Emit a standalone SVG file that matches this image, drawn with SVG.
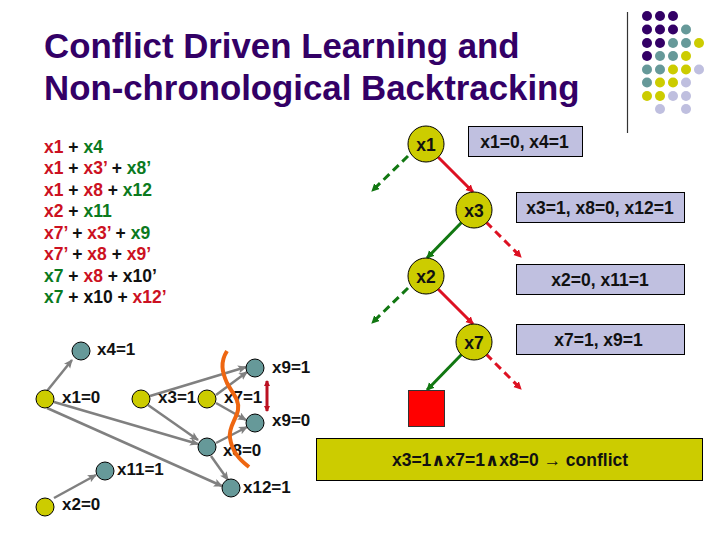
<svg xmlns="http://www.w3.org/2000/svg" width="720" height="540" viewBox="0 0 720 540">
<style>
text{font-family:"Liberation Sans",Arial,"DejaVu Sans",sans-serif;font-weight:bold;fill:#111}
.title{font-size:34.800px;fill:#330066}
.cl{font-size:17.500px}
.r{fill:#cc1122}.g{fill:#0b7a1e}
.lb{font-size:17.500px}
.gl{font-size:17px}
.m{text-anchor:middle}
.dot{stroke:none}
.p{fill:#330066}.t{fill:#669999}.y{fill:#cccc00}.l{fill:#bfbfdf}
.n{stroke:#000;stroke-width:1}
.box{fill:#c0c0e0;stroke:#000;stroke-width:1}
.e{stroke:#808080;stroke-width:2.500;fill:none;marker-end:url(#ag)}
.tr{stroke:#dd1122;stroke-width:3;fill:none;marker-end:url(#ar)}
.tg{stroke:#117711;stroke-width:3;fill:none;marker-end:url(#agr)}
.d{stroke-dasharray:8 5}
</style>
<defs>
<marker id="ag" markerUnits="userSpaceOnUse" markerWidth="10" markerHeight="10" refX="8" refY="4" orient="auto"><path d="M0 0L9 4L0 8L2 4Z" fill="#808080"/></marker>
<marker id="ar" markerUnits="userSpaceOnUse" markerWidth="10" markerHeight="10" refX="7" refY="4" orient="auto"><path d="M0 0L8 4L0 8Z" fill="#dd1122"/></marker>
<marker id="agr" markerUnits="userSpaceOnUse" markerWidth="10" markerHeight="10" refX="7" refY="4" orient="auto"><path d="M0 0L8 4L0 8Z" fill="#117711"/></marker>
<marker id="dr" markerUnits="userSpaceOnUse" markerWidth="8" markerHeight="8" refX="5" refY="3" orient="auto-start-reverse"><path d="M0 0L6 3L0 6Z" fill="#bb1122"/></marker>
</defs>

<text class="title" x="44" y="58">Conflict Driven Learning and</text>
<text class="title" x="44" y="100">Non-chronological Backtracking</text>

<g id="decoration">
<path d="M627.500 12V133" stroke="#333" stroke-width="1.200"/>
<g class="dot">
<circle class="p" cx="647" cy="16" r="5"/><circle class="p" cx="660" cy="16" r="5"/><circle class="p" cx="673" cy="16" r="5"/>
<circle class="p" cx="647" cy="29.500" r="5"/><circle class="p" cx="660" cy="29.500" r="5"/><circle class="p" cx="673" cy="29.500" r="5"/><circle class="t" cx="686" cy="29.500" r="5"/>
<circle class="p" cx="647" cy="43" r="5"/><circle class="p" cx="660" cy="43" r="5"/><circle class="t" cx="673" cy="43" r="5"/><circle class="t" cx="686" cy="43" r="5"/><circle class="y" cx="699" cy="43" r="5"/>
<circle class="p" cx="647" cy="56" r="5"/><circle class="t" cx="660" cy="56" r="5"/><circle class="t" cx="673" cy="56" r="5"/><circle class="y" cx="686" cy="56" r="5"/>
<circle class="t" cx="647" cy="69.500" r="5"/><circle class="t" cx="660" cy="69.500" r="5"/><circle class="y" cx="673" cy="69.500" r="5"/><circle class="y" cx="686" cy="69.500" r="5"/><circle class="l" cx="699" cy="69.500" r="5"/>
<circle class="t" cx="647" cy="82.500" r="5"/><circle class="y" cx="660" cy="82.500" r="5"/><circle class="y" cx="673" cy="82.500" r="5"/><circle class="l" cx="686" cy="82.500" r="5"/>
<circle class="y" cx="647" cy="96" r="5"/><circle class="y" cx="660" cy="96" r="5"/><circle class="l" cx="673" cy="96" r="5"/><circle class="l" cx="686" cy="96" r="5"/>
<circle class="l" cx="660" cy="109" r="5"/><circle class="l" cx="686" cy="109" r="5"/>
</g>
</g>

<g id="clauses" class="cl">
<text x="44" y="153"><tspan class="r">x1</tspan> + <tspan class="g">x4</tspan></text>
<text x="44" y="174"><tspan class="r">x1</tspan> + <tspan class="r">x3’</tspan> + <tspan class="g">x8’</tspan></text>
<text x="44" y="196"><tspan class="r">x1</tspan> + <tspan class="r">x8</tspan> + <tspan class="g">x12</tspan></text>
<text x="44" y="217"><tspan class="r">x2</tspan> + <tspan class="g">x11</tspan></text>
<text x="44" y="239"><tspan class="r">x7’</tspan> + <tspan class="r">x3’</tspan> + <tspan class="g">x9</tspan></text>
<text x="44" y="260"><tspan class="r">x7’</tspan> + <tspan class="r">x8</tspan> + <tspan class="r">x9’</tspan></text>
<text x="44" y="282"><tspan class="g">x7</tspan> + <tspan class="r">x8</tspan> + x10’</text>
<text x="44" y="303"><tspan class="g">x7</tspan> + x10 + <tspan class="r">x12’</tspan></text>
</g>

<g id="connectors">
<path class="e" d="M47 391L72 360"/>
<path class="e" d="M54 402L198 444"/>
<path class="e" d="M47 408L222 486"/>
<path class="e" d="M54 498L96 475"/>
<path class="e" d="M150 396L246 367"/>
<path class="e" d="M148 405L198 440"/>
<path class="e" d="M216 395L247 372"/>
<path class="e" d="M216 403L246 420"/>
<path class="e" d="M216 443L247 427"/>
<path class="e" d="M211 456L228 480"/>
<path class="tr" d="M437 156L473 192"/>
<path class="tr" d="M437 288L473 324"/>
<path class="tg" d="M462 222L427 258"/>
<path class="tg" d="M462 354L427 390"/>
<path class="tg d" d="M408 156L372 191"/>
<path class="tg d" d="M408 288L372 323"/>
<path class="tr d" d="M486 222L521 257"/>
<path class="tr d" d="M486 354L521 389"/>
<path d="M267 381V411" stroke="#bb1122" stroke-width="3" marker-start="url(#dr)" marker-end="url(#dr)"/>
</g>

<g id="n-x4"><circle class="n t" cx="81" cy="351" r="9"/><text class="gl" x="97" y="355">x4=1</text></g>
<g id="n-x1"><circle class="n y" cx="45" cy="399" r="9"/><text class="gl" x="62" y="403">x1=0</text></g>
<g id="n-x3"><circle class="n y" cx="141" cy="399" r="9"/><text class="gl" x="158" y="403">x3=1</text></g>
<g id="n-x7"><circle class="n y" cx="207" cy="399" r="9"/><text class="gl" x="224" y="403">x7=1</text></g>
<g id="n-x9a"><circle class="n t" cx="255" cy="368" r="9"/><text class="gl" x="272" y="373">x9=1</text></g>
<g id="n-x9b"><circle class="n t" cx="255" cy="423" r="9"/><text class="gl" x="272" y="426">x9=0</text></g>
<g id="n-x8"><circle class="n t" cx="207" cy="447" r="9"/><text class="gl" x="223" y="456">x8=0</text></g>
<g id="n-x11"><circle class="n t" cx="105" cy="471" r="9"/><text class="gl" x="117" y="475">x11=1</text></g>
<g id="n-x12"><circle class="n t" cx="231" cy="488" r="9"/><text class="gl" x="243" y="493">x12=1</text></g>
<g id="n-x2"><circle class="n y" cx="45" cy="507" r="9"/><text class="gl" x="62" y="510">x2=0</text></g>

<path id="cut" d="M227 351C220 362 222 372 227 383C232 393 240 400 238 410C236 420 228 428 230 438C232 452 240 460 249 467" fill="none" stroke="#ee6611" stroke-width="4"/>

<g id="t-x1"><circle class="n y" cx="426" cy="144" r="18"/><text class="lb m" x="426" y="151">x1</text></g>
<g id="t-x3"><circle class="n y" cx="474" cy="210" r="18"/><text class="lb m" x="474" y="217">x3</text></g>
<g id="t-x2"><circle class="n y" cx="426" cy="276" r="18"/><text class="lb m" x="426" y="283">x2</text></g>
<g id="t-x7"><circle class="n y" cx="474" cy="342" r="18"/><text class="lb m" x="474" y="349">x7</text></g>
<rect id="t-conflict" x="408.500" y="390.500" width="36" height="36" fill="#ff0000" stroke="#333" stroke-width="1"/>

<g id="b-x1"><rect class="box" x="468.500" y="126.500" width="114" height="30"/><text class="lb m" x="524.500" y="148">x1=0, x4=1</text></g>
<g id="b-x3"><rect class="box" x="516.500" y="192.500" width="168" height="30"/><text class="lb m" x="600" y="214">x3=1, x8=0, x12=1</text></g>
<g id="b-x2"><rect class="box" x="516.500" y="264.500" width="168" height="30"/><text class="lb m" x="600" y="286">x2=0, x11=1</text></g>
<g id="b-x7"><rect class="box" x="516.500" y="324.500" width="168" height="30"/><text class="lb m" x="598.500" y="346">x7=1, x9=1</text></g>
<g id="b-conflict"><rect x="316.500" y="438.500" width="386" height="42" fill="#cccc00" stroke="#000" stroke-width="1"/><text class="lb m" x="510" y="466">x3=1∧x7=1∧x8=0 → conflict</text></g>
</svg>
